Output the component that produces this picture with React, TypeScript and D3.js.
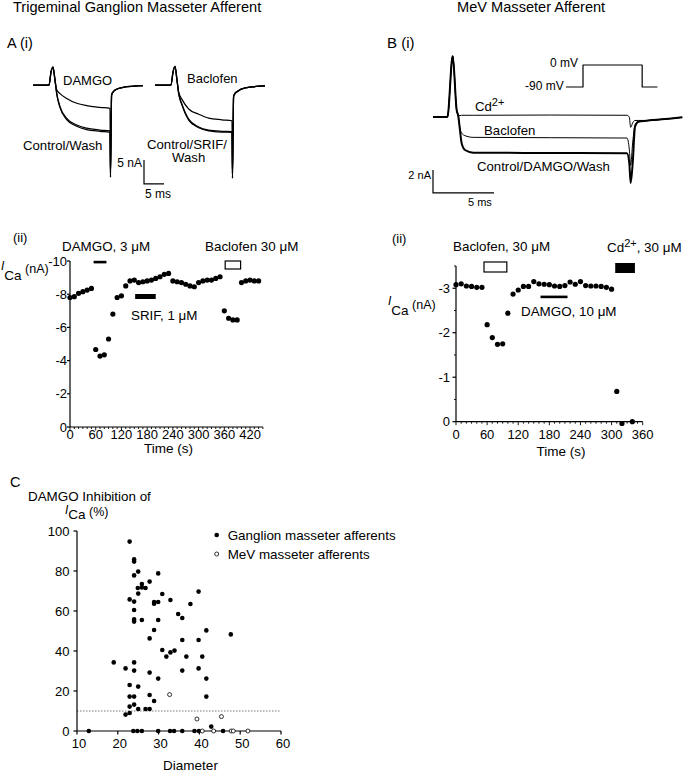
import React from 'react';
import * as d3 from 'd3';

const FONT = '"Liberation Sans", Arial, Helvetica, sans-serif';

// ---------- A(i) current traces (ms, nA) ----------
const aTraceTime = [-4.25, -0.25, 0.25, 0.75, 1.25, 1.67, 2.5, 4.17, 6.67, 9.17, 12.5, 15, 15.12, 15.4, 15.75, 16.3, 18.3, 23.25];
const aLeftControl = [0, 0, 2.7, 3.75, 1.0, -1.7, -4.5, -6.94, -8.33, -9.0, -9.38, -9.58, -19.2, -2.1, -1.5, -1.04, -0.48, -0.15];
const aLeftWash = [0, 0, 2.7, 3.75, 1.0, -1.8, -4.7, -7.2, -8.6, -9.3, -9.65, -9.85, -19.2, -2.1, -1.5, -1.04, -0.48, -0.15];
const aLeftDamgo = [0, 0, 2.7, 3.75, 1.0, -1.0, -1.8, -2.8, -3.8, -4.3, -4.65, -4.85, -18.5, -2.0, -1.45, -1.0, -0.48, -0.15];
const aRightControl = [0, 0, 2.7, 3.9, 1.0, -1.7, -4.0, -7.1, -8.75, -9.4, -9.65, -9.73, -19.4, -2.4, -1.8, -1.4, -0.6, -0.2];
const aRightSrifWash = [0, 0, 2.7, 3.9, 1.0, -1.8, -4.2, -7.3, -8.9, -9.55, -9.8, -9.85, -19.4, -2.4, -1.8, -1.4, -0.6, -0.2];
const aRightBaclofen = [0, 0, 2.7, 3.9, 1.0, -1.5, -3.0, -5.0, -6.1, -6.9, -7.25, -7.45, -18.5, -2.3, -1.7, -1.3, -0.6, -0.2];

// ---------- B(i) current traces (ms, nA) ----------
const bTraceTime = [-1.23, -0.05, 0.385, 0.71, 0.84, 0.98, 1.12, 1.39, 2.07, 8.4, 14.67, 14.86, 14.97, 15.14, 15.33, 15.6, 16.3, 18.5, 19.2];
const bControl = [0, 0, 5.3, 0.6, 0.1, -1.13, -2.29, -2.87, -3.1, -3.13, -3.16, -4.0, -5.74, -4.0, -0.84, -0.41, -0.32, -0.11, -0.03];
const bBaclofen = [0, 0, 5.3, 0.6, 0.1, -0.96, -1.4, -1.62, -1.77, -1.8, -1.83, -2.8, -4.2, -2.2, -0.7, -0.41, -0.32, -0.11, -0.03];
const bCd = [0, 0, 5.3, 0.6, 0.1, 0.12, 0.15, 0.15, 0.15, 0.17, 0.15, 0.0, -0.9, -0.5, -0.3, -0.3, -0.3, -0.11, -0.03];
// voltage protocol
const protoTime = [-1.4, 0, 0, 4.85, 4.85, 6.1];
const protoVolt = [-90, -90, 0, 0, -90, -90];

// ---------- A(ii) time course ----------
const aTimes = [0, 10, 20, 30, 40, 50, 60, 70, 80, 90, 100, 110, 120, 130, 140, 150, 160, 170, 180, 190, 200, 210, 220, 230, 240, 250, 260, 270, 280, 290, 300, 310, 320, 330, 340, 350, 360, 370, 380, 390, 400, 410, 420, 430, 440];
const aCurrents = [-7.8, -7.85, -8.05, -8.15, -8.25, -8.35, -4.67, -4.27, -4.35, -5.3, -6.8, -7.8, -7.9, -8.5, -8.8, -8.85, -8.7, -8.75, -8.8, -8.85, -8.95, -9.05, -9.2, -9.25, -8.8, -8.75, -8.7, -8.6, -8.5, -8.45, -8.7, -8.8, -8.85, -8.85, -8.95, -9.05, -7.0, -6.55, -6.45, -6.45, -8.7, -8.8, -8.85, -8.8, -8.8];
const aTimeTicks = [0, 60, 120, 180, 240, 300, 360, 420];
const aCurrentTicks = [0, -2, -4, -6, -8, -10];
const aDamgo = [55, 85];
const aSrif = [152, 200];
const aBaclofen = [362, 398];

// ---------- B(ii) time course ----------
const bTimes = [0, 10, 20, 30, 40, 50, 60, 70, 80, 90, 100, 110, 120, 130, 140, 150, 160, 170, 180, 190, 200, 210, 220, 230, 240, 250, 260, 270, 280, 290, 300, 310, 320, 340];
const bCurrents = [-3.08, -3.1, -3.05, -3.04, -3.02, -3.02, -2.18, -1.89, -1.74, -1.75, -2.44, -2.87, -2.96, -3.04, -3.04, -3.15, -3.1, -3.09, -3.08, -3.05, -3.04, -3.06, -3.14, -3.09, -3.15, -3.06, -3.05, -3.05, -3.04, -3.02, -2.98, -0.68, 0.04, 0.0];
const bTimeTicks = [0, 60, 120, 180, 240, 300, 360];
const bCurrentTicks = [0, -1, -2, -3];
const bBaclofenBar = [54, 98];
const bDamgoBar = [163, 215];
const bCdBar = [307, 345];

// ---------- C scatter ----------
const ganglionDiameter = [22.9, 24, 24, 25, 24, 29.9, 27.8, 25.9, 25.9, 24.9, 26.8, 25, 30.9, 22.9, 24, 28.9, 28.9, 29.9, 32.9, 37.8, 39.8, 24, 24, 24, 25.9, 29.9, 34.8, 35.8, 28.9, 27.8, 41.7, 47.7, 35.8, 39.8, 30.9, 31.9, 32.9, 33.9, 36.8, 40.7, 19, 24, 21.9, 24, 35.8, 39.8, 27.8, 29.9, 41.7, 22.9, 25, 22.9, 24, 27.8, 41.7, 28.9, 24, 22.9, 25, 26.8, 27.8, 22.9, 21.9, 42.9, 12.9, 23.8, 24.8, 25.9, 29.9, 32.8, 33.8, 35.8, 38.8, 39.9, 45.8];
const ganglionInhibition = [94.7, 85.8, 84.7, 79.7, 77.8, 78.8, 74.7, 73.5, 71.8, 71.5, 71.5, 68.7, 68.5, 65.8, 64.7, 64.5, 63.6, 64.5, 65.5, 63.5, 69.7, 60.5, 55.8, 54.7, 55.5, 55.5, 58.5, 56.5, 50.5, 46.3, 50.3, 48.3, 45.5, 45.5, 40.5, 37.2, 39.3, 40.2, 37.2, 37.2, 34.3, 34.3, 31.3, 30.2, 30.2, 31.3, 29.2, 26.2, 26.2, 23, 22.2, 17.2, 17.2, 18, 17.2, 15, 13.2, 12.2, 11, 11, 11, 9, 8.2, 2.2, 0, 0, 0, 0, 0, 0, 0, 0, 0, 0, 0];
const mevDiameter = [32.7, 39.4, 45.4, 40.7, 43.5, 47.8, 48.3, 51.9];
const mevInhibition = [18.2, 6, 7.2, 0, 0, 0, 0, 0];
const cDiameterTicks = [10, 20, 30, 40, 50, 60];
const cInhibitionTicks = [0, 20, 40, 60, 80, 100];
const cThreshold = 10;

// scale-bar sizes (data units)
const aBarNA = 5;
const aBarMs = 5;
const bBarNA = 2;
const bBarMs = 5;

const zip = (xs: number[], ys: number[]) => xs.map((x, i) => [x, ys[i]] as [number, number]);

export default function App() {
  // ----- scales for traces -----
  const aYt = d3.scaleLinear().domain([0, -5]).range([85, 109]);
  const aXl = d3.scaleLinear().domain([0, 5]).range([50, 70]);
  const aXr = d3.scaleLinear().domain([0, 5]).range([172, 192]);
  const bXt = d3.scaleLinear().domain([0, 5]).range([448, 509]);
  const bYt = d3.scaleLinear().domain([0, -2]).range([117, 140]);
  const pX = d3.scaleLinear().domain([0, 5]).range([583, 644]);
  const pY = d3.scaleLinear().domain([-90, 0]).range([87, 65]);

  const lineOf = (x: any, y: any) =>
    d3.line<[number, number]>().x(d => x(d[0])).y(d => y(d[1])).curve(d3.curveMonotoneX);
  const lineLin = (x: any, y: any) =>
    d3.line<[number, number]>().x(d => x(d[0])).y(d => y(d[1]));

  const aL = lineOf(aXl, aYt);
  const aR = lineOf(aXr, aYt);
  const bL = lineOf(bXt, bYt);
  const pL = lineLin(pX, pY);

  // ----- A(ii) scales -----
  const a2x = d3.scaleLinear().domain([0, 450]).range([70, 262.9]);
  const a2y = d3.scaleLinear().domain([0, -10]).range([427, 261]);
  // ----- B(ii) scales -----
  const b2x = d3.scaleLinear().domain([0, 360]).range([456, 642.7]);
  const b2y = d3.scaleLinear().domain([0, -3.5]).range([421.7, 266]);
  // ----- C scales -----
  const cx = d3.scaleLinear().domain([10, 60]).range([77, 281]);
  const cy = d3.scaleLinear().domain([0, 100]).range([731, 531]);

  const txt = { fontFamily: FONT, fill: '#000' } as const;

  const minorA = d3.range(0, 451, 10);
  const minorB = d3.range(0, 361, 10);
  const minorBy = [-0.5, -1.5, -2.5, -3.5];

  // scale bar anchors (bar corner in trace coordinates)
  const aBarT0 = 23.5, aBarI0 = -20.6;
  const bBarT0 = -1.23, bBarI0 = -6.6;

  return (
    <svg width={685} height={772} style={{ position: 'absolute', left: 0, top: 0, background: '#fff' }}
      xmlns="http://www.w3.org/2000/svg">
      <rect x={0} y={0} width={685} height={772} fill="#fff" />
      {/* Titles */}
      <text x={13} y={12.3} fontSize={14.6} {...txt}>Trigeminal Ganglion Masseter Afferent</text>
      <text x={457} y={12.3} fontSize={14.6} {...txt}>MeV Masseter Afferent</text>
      <text x={7} y={47.5} fontSize={14.5} {...txt}>A (i)</text>
      <text x={387} y={48} fontSize={15} {...txt}>B (i)</text>

      {/* A(i) traces */}
      <g fill="none" stroke="#000" strokeWidth={1.25} strokeLinejoin="round">
        <path d={aL(zip(aTraceTime, aLeftWash)) || ''} />
        <path d={aL(zip(aTraceTime, aLeftControl)) || ''} />
        <path d={aL(zip(aTraceTime, aLeftDamgo)) || ''} />
        <path d={aR(zip(aTraceTime, aRightSrifWash)) || ''} />
        <path d={aR(zip(aTraceTime, aRightControl)) || ''} />
        <path d={aR(zip(aTraceTime, aRightBaclofen)) || ''} />
      </g>
      <text x={63} y={85} fontSize={13} {...txt}>DAMGO</text>
      <text x={23} y={150} fontSize={13.2} {...txt}>Control/Wash</text>
      <text x={187} y={83} fontSize={13} {...txt}>Baclofen</text>
      <text x={147} y={149} fontSize={13.2} {...txt}>Control/SRIF/</text>
      <text x={172} y={162} fontSize={13.2} {...txt}>Wash</text>
      {/* A scale bar: 5 nA, 5 ms */}
      <path d={`M${aXl(aBarT0)},${aYt(aBarI0 + aBarNA)} V${aYt(aBarI0)} H${aXl(aBarT0 + aBarMs)}`} fill="none" stroke="#000" strokeWidth={1.2} />
      <text x={142} y={167} textAnchor="end" fontSize={12} {...txt}>5 nA</text>
      <text x={145} y={198} fontSize={12} {...txt}>5 ms</text>

      {/* B(i) traces */}
      <g fill="none" stroke="#000" strokeLinejoin="round">
        <path d={bL(zip(bTraceTime, bCd)) || ''} strokeWidth={1} />
        <path d={bL(zip(bTraceTime, bBaclofen)) || ''} strokeWidth={1} />
        <path d={bL(zip(bTraceTime, bControl)) || ''} strokeWidth={2} />
        <path d={pL(zip(protoTime, protoVolt)) || ''} strokeWidth={1.2} />
      </g>
      <text x={475} y={111} fontSize={13.2} {...txt}>Cd<tspan dy={-5} fontSize={11}>2+</tspan></text>
      <text x={484} y={135} fontSize={13.2} {...txt}>Baclofen</text>
      <text x={477} y={171} fontSize={13.2} {...txt}>Control/DAMGO/Wash</text>
      <text x={550} y={67} fontSize={12} {...txt}>0 mV</text>
      <text x={525} y={90} fontSize={12} {...txt}>-90 mV</text>
      {/* B scale bar: 2 nA, 5 ms */}
      <path d={`M${bXt(bBarT0)},${bYt(bBarI0 + bBarNA)} V${bYt(bBarI0)} H${bXt(bBarT0 + bBarMs)}`} fill="none" stroke="#000" strokeWidth={1.2} />
      <text x={431} y={179} textAnchor="end" fontSize={11} {...txt}>2 nA</text>
      <text x={468} y={206} fontSize={11} {...txt}>5 ms</text>

      {/* ================= A(ii) ================= */}
      <text x={13} y={242} fontSize={13} {...txt}>(ii)</text>
      <text x={1} y={270} {...txt} fontSize={12}>
        <tspan fontStyle="italic">I</tspan>
        <tspan dy={10} fontSize={13.5}>Ca</tspan>
        <tspan dy={-7.5} fontSize={12.5}> (nA)</tspan>
      </text>
      <g stroke="#000" strokeWidth={1.2}>
        <line x1={a2x(0)} x2={a2x(0)} y1={a2y(-10)} y2={a2y(0)} />
        <line x1={a2x(0)} x2={a2x(450)} y1={a2y(0)} y2={a2y(0)} />
        {aCurrentTicks.map(t => <line key={'ay' + t} x1={a2x(0) - 3} x2={a2x(0)} y1={a2y(t)} y2={a2y(t)} />)}
        {minorA.map(t => <line key={'amx' + t} x1={a2x(t)} x2={a2x(t)} y1={a2y(0)} y2={a2y(0) + (t % 60 === 0 ? 3.5 : 2)} strokeWidth={0.9} />)}
      </g>
      {aCurrentTicks.map(t => (
        <text key={'ayl' + t} x={67} y={a2y(t)} dy="0.35em" textAnchor="end" fontSize={13} {...txt}>{t === 0 ? '0' : String(t)}</text>
      ))}
      {aTimeTicks.map(t => (
        <text key={'axl' + t} x={a2x(t)} y={438.5} textAnchor="middle" fontSize={13} {...txt}>{t}</text>
      ))}
      <text x={168.5} y={452.5} textAnchor="middle" fontSize={13.5} {...txt}>Time (s)</text>
      {aTimes.map((t, i) => <circle key={'ap' + i} cx={a2x(t)} cy={a2y(aCurrents[i])} r={2.6} fill="#000" />)}
      <rect x={a2x(aDamgo[0])} y={260.8} width={a2x(aDamgo[1]) - a2x(aDamgo[0])} height={2.6} fill="#000" />
      <rect x={a2x(aSrif[0])} y={294} width={a2x(aSrif[1]) - a2x(aSrif[0])} height={5} fill="#000" />
      <rect x={a2x(aBaclofen[0])} y={261} width={a2x(aBaclofen[1]) - a2x(aBaclofen[0])} height={8} fill="#fff" stroke="#000" strokeWidth={1.2} />
      <text x={62} y={250.5} fontSize={13.4} {...txt}>DAMGO, 3 μM</text>
      <text x={131} y={319.5} fontSize={13.4} {...txt}>SRIF, 1 μM</text>
      <text x={205} y={250.5} fontSize={13.4} {...txt}>Baclofen 30 μM</text>

      {/* ================= B(ii) ================= */}
      <text x={392} y={242.5} fontSize={13} {...txt}>(ii)</text>
      <text x={388} y={305} {...txt} fontSize={12}>
        <tspan fontStyle="italic">I</tspan>
        <tspan dy={10} fontSize={13.5}>Ca</tspan>
        <tspan dy={-6.5} fontSize={12.5}> (nA)</tspan>
      </text>
      <g stroke="#000" strokeWidth={1.2}>
        <line x1={b2x(0)} x2={b2x(0)} y1={b2y(-3.5)} y2={b2y(0)} />
        <line x1={b2x(0)} x2={b2x(360)} y1={b2y(0)} y2={b2y(0)} />
        {bCurrentTicks.map(t => <line key={'by' + t} x1={b2x(0) - 3.5} x2={b2x(0)} y1={b2y(t)} y2={b2y(t)} />)}
        {minorBy.map(t => <line key={'bym' + t} x1={b2x(0) - 2} x2={b2x(0)} y1={b2y(t)} y2={b2y(t)} strokeWidth={0.9} />)}
        {minorB.map(t => <line key={'bmx' + t} x1={b2x(t)} x2={b2x(t)} y1={b2y(0)} y2={b2y(0) + (t % 60 === 0 ? 3.5 : 2)} strokeWidth={0.9} />)}
      </g>
      {bCurrentTicks.map(t => (
        <text key={'byl' + t} x={450} y={b2y(t)} dy="0.35em" textAnchor="end" fontSize={13} {...txt}>{t === 0 ? '0' : String(t)}</text>
      ))}
      {bTimeTicks.map(t => (
        <text key={'bxl' + t} x={b2x(t)} y={438.5} textAnchor="middle" fontSize={13} {...txt}>{t}</text>
      ))}
      <text x={561} y={456} textAnchor="middle" fontSize={13.5} {...txt}>Time (s)</text>
      {bTimes.map((t, i) => <circle key={'bp' + i} cx={b2x(t)} cy={b2y(bCurrents[i])} r={2.6} fill="#000" />)}
      <rect x={b2x(bBaclofenBar[0])} y={262} width={b2x(bBaclofenBar[1]) - b2x(bBaclofenBar[0])} height={10} fill="#fff" stroke="#000" strokeWidth={1.2} />
      <rect x={b2x(bDamgoBar[0])} y={295.6} width={b2x(bDamgoBar[1]) - b2x(bDamgoBar[0])} height={2.6} fill="#000" />
      <rect x={b2x(bCdBar[0])} y={263} width={b2x(bCdBar[1]) - b2x(bCdBar[0])} height={10} fill="#000" />
      <text x={453} y={251} fontSize={13.4} {...txt}>Baclofen, 30 μM</text>
      <text x={607} y={252} fontSize={13.4} {...txt}>Cd<tspan dy={-5} fontSize={11}>2+</tspan><tspan dy={5}>, 30 μM</tspan></text>
      <text x={521} y={316} fontSize={13.4} {...txt}>DAMGO, 10 μM</text>

      {/* ================= C ================= */}
      <text x={10} y={487} fontSize={14.5} {...txt}>C</text>
      <text x={28} y={500.5} fontSize={13.4} {...txt}>DAMGO Inhibition of</text>
      <text x={65} y={513.5} {...txt} fontSize={12}>
        <tspan fontStyle="italic">I</tspan>
        <tspan dy={5.5} fontSize={13.5}>Ca</tspan>
        <tspan dy={-3} fontSize={12.5}> (%)</tspan>
      </text>
      <line x1={cx(10)} x2={cx(60)} y1={cy(cThreshold)} y2={cy(cThreshold)} stroke="#777" strokeWidth={1} strokeDasharray="1.5,1.5" />
      <g stroke="#000" strokeWidth={1.2}>
        <line x1={cx(10)} x2={cx(10)} y1={cy(100)} y2={cy(0)} />
        <line x1={cx(10)} x2={cx(60)} y1={cy(0)} y2={cy(0)} />
        {cInhibitionTicks.map(t => <line key={'cy' + t} x1={cx(10) - 3.5} x2={cx(10)} y1={cy(t)} y2={cy(t)} />)}
        {cDiameterTicks.map(t => <line key={'cx' + t} x1={cx(t)} x2={cx(t)} y1={cy(0)} y2={cy(0) + 3.5} />)}
      </g>
      {cInhibitionTicks.map(t => (
        <text key={'cyl' + t} x={69.5} y={cy(t)} dy="0.35em" textAnchor="end" fontSize={13} {...txt}>{t}</text>
      ))}
      {cDiameterTicks.map(t => (
        <text key={'cxl' + t} x={cx(t) + 2} y={748} textAnchor="middle" fontSize={13} {...txt}>{t}</text>
      ))}
      <text x={190.5} y={769.5} textAnchor="middle" fontSize={13.5} {...txt}>Diameter</text>
      {ganglionDiameter.map((d, i) => <circle key={'g' + i} cx={cx(d)} cy={cy(ganglionInhibition[i])} r={2.3} fill="#000" />)}
      {mevDiameter.map((d, i) => <circle key={'m' + i} cx={cx(d)} cy={cy(mevInhibition[i])} r={2} fill="#fff" stroke="#000" strokeWidth={0.8} />)}
      {/* legend */}
      <circle cx={216.7} cy={535} r={2.3} fill="#000" />
      <text x={227.7} y={535} dy="0.35em" fontSize={13.4} {...txt}>Ganglion masseter afferents</text>
      <circle cx={216.7} cy={554} r={2} fill="#fff" stroke="#000" strokeWidth={0.8} />
      <text x={227.7} y={554} dy="0.35em" fontSize={13.4} {...txt}>MeV masseter afferents</text>
    </svg>
  );
}
